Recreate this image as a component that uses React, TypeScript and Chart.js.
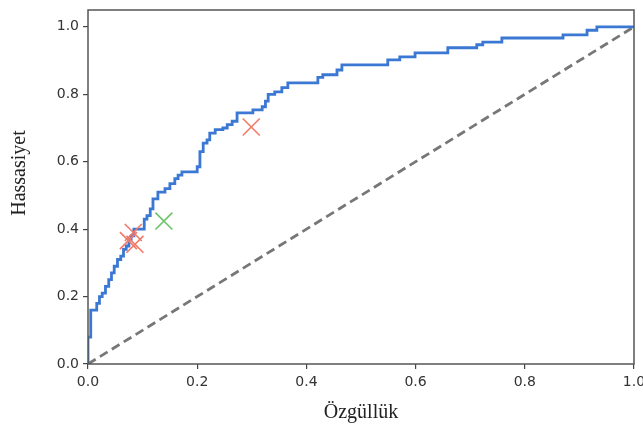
import React, { useEffect, useRef } from 'react';
import { Chart, registerables } from 'chart.js';

Chart.register(...registerables);

// ROC curve corners: at each fpr, the tpr jumps to the given value
const rocFpr = [0, 0, 0.005, 0.016, 0.021, 0.026, 0.032, 0.038, 0.043, 0.048, 0.054, 0.060, 0.065, 0.070, 0.075, 0.079, 0.084, 0.103, 0.108, 0.114, 0.119, 0.128, 0.141, 0.150, 0.159, 0.165, 0.172, 0.200, 0.205, 0.211, 0.218, 0.223, 0.233, 0.247, 0.255, 0.264, 0.273, 0.302, 0.319, 0.325, 0.330, 0.342, 0.355, 0.366, 0.421, 0.430, 0.456, 0.465, 0.549, 0.571, 0.599, 0.659, 0.712, 0.723, 0.758, 0.870, 0.914, 0.932, 1.0];
const rocTpr = [0, 0.08, 0.16, 0.18, 0.20, 0.21, 0.23, 0.25, 0.27, 0.29, 0.31, 0.32, 0.34, 0.35, 0.37, 0.38, 0.40, 0.43, 0.44, 0.46, 0.49, 0.51, 0.52, 0.535, 0.55, 0.56, 0.57, 0.585, 0.63, 0.655, 0.665, 0.685, 0.695, 0.70, 0.71, 0.72, 0.745, 0.754, 0.763, 0.78, 0.80, 0.807, 0.82, 0.834, 0.85, 0.858, 0.872, 0.887, 0.902, 0.911, 0.923, 0.938, 0.947, 0.955, 0.967, 0.976, 0.99, 1.0, 1.0];

const diagFpr = [0, 1];
const diagTpr = [0, 1];

const redFpr = [0.299, 0.083, 0.074, 0.086];
const redTpr = [0.703, 0.39, 0.366, 0.355];

const greenFpr = [0.139];
const greenTpr = [0.424];

const xTicks = [0, 0.2, 0.4, 0.6, 0.8, 1.0];
const yTicks = [0, 0.2, 0.4, 0.6, 0.8, 1.0];

const xTitle = 'Özgüllük';
const yTitle = 'Hassasiyet';

const pts = (xs: number[], ys: number[]) => xs.map((x, i) => ({ x, y: ys[i] }));

export default function App() {
  const ref = useRef<HTMLCanvasElement | null>(null);

  useEffect(() => {
    if (!ref.current) return;
    const framePlugin = {
      id: 'frame',
      afterDraw(chart: any) {
        const { ctx, chartArea: a } = chart;
        ctx.save();
        ctx.strokeStyle = '#555';
        ctx.lineWidth = 1.5;
        ctx.strokeRect(a.left, a.top, a.right - a.left, a.bottom - a.top);
        // y title
        ctx.fillStyle = '#222';
        ctx.font = '20px "Liberation Serif", "DejaVu Serif", serif';
        ctx.textAlign = 'center';
        ctx.textBaseline = 'middle';
        ctx.translate(20, 173);
        ctx.rotate(-Math.PI / 2);
        ctx.fillText(yTitle, 0, 0);
        ctx.restore();
      },
    };

    const chart = new Chart(ref.current, {
      type: 'scatter',
      data: {
        datasets: [
          {
            label: 'red',
            data: pts(redFpr, redTpr),
            pointStyle: 'crossRot',
            pointRadius: 12,
            pointBorderWidth: 1.6,
            borderColor: '#f27a68',
            backgroundColor: '#f27a68',
            showLine: false,
            order: 0,
          },
          {
            label: 'green',
            data: pts(greenFpr, greenTpr),
            pointStyle: 'crossRot',
            pointRadius: 12,
            pointBorderWidth: 1.6,
            borderColor: '#6cc46a',
            backgroundColor: '#6cc46a',
            showLine: false,
            order: 0,
          },
          {
            label: 'roc',
            data: pts(rocFpr, rocTpr),
            showLine: true,
            stepped: 'before',
            borderColor: '#3b78d4',
            borderWidth: 2.8,
            pointRadius: 0,
            fill: false,
            order: 1,
          },
          {
            label: 'diag',
            data: pts(diagFpr, diagTpr),
            showLine: true,
            borderColor: '#777777',
            borderWidth: 2.8,
            borderDash: [9, 5],
            pointRadius: 0,
            fill: false,
            order: 2,
          },
        ],
      },
      options: {
        animation: false,
        responsive: false,
        maintainAspectRatio: false,
        layout: { autoPadding: false, padding: { top: 10, right: 9, left: 0, bottom: 0 } },
        plugins: { legend: { display: false }, tooltip: { enabled: false } },
        scales: {
          x: {
            type: 'linear',
            min: 0,
            max: 1,
            afterBuildTicks: (s: any) => { s.ticks = xTicks.map((v) => ({ value: v })); },
            afterFit: (s: any) => { s.height = 61; s.paddingLeft = 0; s.paddingRight = 0; },
            ticks: {
              callback: (v: any) => Number(v).toFixed(1),
              font: { family: '"DejaVu Sans", sans-serif', size: 14 },
              color: '#333',
              padding: 5,
              maxRotation: 0,
            },
            grid: { drawOnChartArea: false, drawTicks: true, tickLength: 5, color: '#444', lineWidth: 1.2 },
            border: { display: false },
            title: {
              display: true,
              text: xTitle,
              font: { family: '"Liberation Serif", "DejaVu Serif", serif', size: 20 },
              color: '#222',
              padding: { top: 6, bottom: 0 },
            },
          },
          y: {
            type: 'linear',
            min: 0,
            max: 1.05,
            afterBuildTicks: (s: any) => { s.ticks = yTicks.map((v) => ({ value: v })); },
            afterFit: (s: any) => { s.width = 88; s.paddingTop = 0; s.paddingBottom = 0; },
            ticks: {
              callback: (v: any) => Number(v).toFixed(1),
              font: { family: '"DejaVu Sans", sans-serif', size: 14 },
              color: '#333',
              padding: 4,
            },
            grid: { drawOnChartArea: false, drawTicks: true, tickLength: 5, color: '#444', lineWidth: 1.2 },
            border: { display: false },
          },
        },
      },
      plugins: [framePlugin],
    } as any);
    return () => chart.destroy();
  }, []);

  return (
    <div style={{ position: 'absolute', left: 0, top: 0, width: 643, height: 425, background: '#fff' }}>
      <canvas ref={ref} width={643} height={425} style={{ display: 'block' }} />
    </div>
  );
}
